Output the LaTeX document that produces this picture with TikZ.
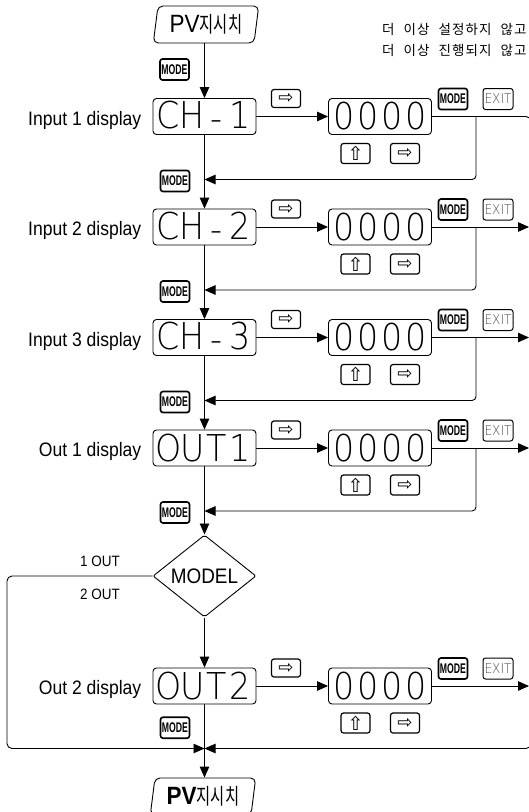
\documentclass[tikz,border=0pt]{standalone}
\usepackage{fontspec}
\usetikzlibrary{arrows.meta,shapes.geometric}
\newfontfamily\lblf[FakeStretch=0.9]{Liberation Sans}
\newfontfamily\modef[FakeStretch=0.62]{Liberation Sans}
\newfontfamily\lcdf[FakeStretch=0.9]{DejaVu Sans ExtraLight}
\newfontfamily\symf{DejaVu Sans}
\newfontfamily\krf[LetterSpace=8,WordSpace=2.2]{Noto Sans CJK KR}
\newfontfamily\krnf[FakeStretch=0.7]{Noto Sans CJK KR}
\newcommand\dg[1]{\makebox[24pt]{#1}}
\newcommand\lowdash{\raisebox{-3pt}{-}}
\begin{document}
\begin{tikzpicture}[x=1pt,y=-1pt,
  ln/.style={line width=0.9pt},
  arr/.style={-{Triangle[length=11pt,width=9.5pt]}},
  disp/.style={draw,line width=0.9pt,rounded corners=3.5pt,minimum width=103pt,minimum height=36pt,inner sep=0pt,font=\lcdf\fontsize{37}{37}\selectfont},
  keyb/.style={draw,line width=1.2pt,rounded corners=2.5pt,minimum width=29pt,minimum height=18pt,inner sep=0pt},
  rkey/.style={keyb,font=\symf\fontsize{18}{18}\selectfont},
  ukey/.style={keyb,minimum height=20pt,font=\symf\fontsize{19}{19}\selectfont},
  modekey/.style={keyb,line width=1.6pt,minimum height=21pt,font=\modef\bfseries\fontsize{14}{14}\selectfont},
  exitkey/.style={keyb,line width=1pt,minimum width=30pt,minimum height=21pt,text=black!70,font=\lcdf\fontsize{13.5}{13.5}\selectfont},
  lbl/.style={anchor=base east,inner sep=0pt,font=\lblf\fontsize{19.5}{19.5}\selectfont},
  small/.style={anchor=base east,inner sep=0pt,font=\lblf\fontsize{15}{15}\selectfont},
  note/.style={anchor=base west,inner sep=0pt,font=\krf\fontsize{13.5}{13.5}\selectfont},
  pv/.style={trapezium,trapezium left angle=80,trapezium right angle=100,trapezium stretches=true,draw,line width=0.9pt,rounded corners=5pt,minimum width=106pt,minimum height=37pt,inner sep=0pt},
  ]
\useasboundingbox (0,0) rectangle (529,812);

% top start
\node[pv] (pvt) at (206,24.5) {{\lblf\fontsize{25}{25}\selectfont PV}{\krnf\fontsize{22}{22}\selectfont 지시치}};
\node[modekey] (mk0) at (174.5,69.5) {MODE};
\node[note] (n1) at (382,34) {더 이상 설정하지 않고};
\node[note] (n2) at (382,55) {더 이상 진행되지 않고};

% display boxes
\node[disp] (d1) at (204.5,116.5) {\dg{C}\dg{H}\dg{\lowdash}\dg{1}};
\node[disp] (d2) at (204.5,227) {\dg{C}\dg{H}\dg{\lowdash}\dg{2}};
\node[disp] (d3) at (204.5,337.5) {\dg{C}\dg{H}\dg{\lowdash}\dg{3}};
\node[disp] (d4) at (204.5,448) {\dg{O}\dg{U}\dg{T}\dg{1}};
\node[disp] (d5) at (204.5,686) {\dg{O}\dg{U}\dg{T}\dg{2}};

\node[lbl] (l1) at (141.5,125) {Input 1 display};
\node[lbl] (l2) at (141.5,235.5) {Input 2 display};
\node[lbl] (l3) at (141.5,346) {Input 3 display};
\node[lbl] (l4) at (141.5,456.5) {Out 1 display};
\node[lbl] (l5) at (141.5,694.5) {Out 2 display};

\foreach \i/\y in {1/116.5,2/227,3/337.5,4/448,5/686}{
  \node[disp] (v\i) at (380,\y) {\dg{0}\dg{0}\dg{0}\dg{0}};
  \node[rkey] (ra\i) at (286,{\y-18}) {⇨};
  \node[modekey] (mk\i) at (453,{\y-17.5}) {MODE};
  \node[exitkey] (ek\i) at (498,{\y-17.5}) {EXIT};
  \node[ukey] (uk\i) at (355.5,{\y+37}) {⇧};
  \node[rkey,minimum height=20pt] (rb\i) at (405,{\y+37}) {⇨};
  \draw[ln,arr] (d\i) -- (v\i);
}
\foreach \i/\y in {1/116.5,2/227,3/337.5,4/448}{
  \coordinate (j\i) at (476,\y);
  \coordinate (r\i) at (204.5,{\y+63});
  \draw[ln,arr,rounded corners=4pt] (j\i) |- (r\i);
  \node[modekey] (ml\i) at (175,{\y+64.5}) {MODE};
}
\foreach \i/\y in {2/227,3/337.5,4/448,5/686}{
  \coordinate (e\i) at (529,\y);
  \draw[ln,arr] (v\i.east) -- (e\i);
}

% main vertical flow
\draw[ln,arr] (d1.north |- pvt.south) -- (d1.north);
\draw[ln,arr] (d1) -- (d2);
\draw[ln,arr] (d2) -- (d3);
\draw[ln,arr] (d3) -- (d4);

\node[diamond,draw,ln,minimum width=103pt,minimum height=74pt,inner sep=0pt,rounded corners=2pt,font=\lblf\fontsize{21}{21}\selectfont] (model) at (204.5,576) {MODEL};
\draw[ln,arr] (d4) -- (model);
\draw[ln,arr] (model) -- (d5);
\node[small] (o1l) at (120,566) {1 OUT};
\node[small] (o2l) at (120,599) {2 OUT};

\coordinate (lt) at (7,576);
\coordinate (lb) at (7,748.5);
\coordinate (bj) at (204.5,748.5);
\coordinate (rt) at (531,116.5);
\coordinate (rbm) at (531,748.5);
\draw[ln,arr,rounded corners=5pt] (model.west) -- (lt) -- (lb) -- (bj);
\draw[ln,arr,rounded corners=5pt] (v1.east) -- (rt) -- (rbm) -- (bj);
\node[modekey] (ml5) at (175,727.7) {MODE};
\draw[ln] (d5) -- (bj);

\node[pv] (pvb) at (203,796.5) {{\lblf\bfseries\fontsize{25}{25}\selectfont PV}{\krnf\fontsize{22}{22}\selectfont 지시치}};
\draw[ln,arr] (bj) -- (bj |- pvb.north);
\end{tikzpicture}
\end{document}
